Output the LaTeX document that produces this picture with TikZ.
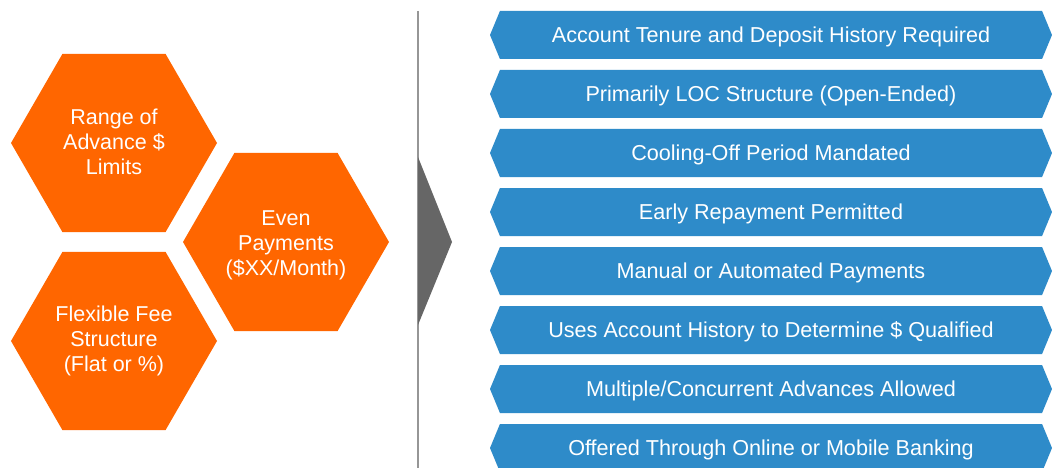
\documentclass[tikz,border=0pt]{standalone}
\usepackage{fontspec}
\setmainfont{Liberation Sans}
\usetikzlibrary{shapes.geometric,shapes.symbols}
\definecolor{hexorange}{RGB}{255,102,0}
\definecolor{bannerblue}{RGB}{46,139,201}
\definecolor{sepgray}{RGB}{150,150,150}
\definecolor{arrowgray}{RGB}{102,102,102}
\begin{document}
\begin{tikzpicture}[x=1pt,y=-1pt,
  hexbox/.style={shape=regular polygon, regular polygon sides=6, minimum size=206pt,
    inner sep=0pt, outer sep=0pt, fill=hexorange},
  hextext/.style={inner sep=0pt, text=white, align=center,
    font=\fontsize{21.5}{25}\selectfont},
  banner/.style={shape=signal, signal to=west and east, signal pointer angle=135,
    minimum width=562pt, minimum height=48pt, inner sep=0pt, outer sep=0pt,
    text height=15pt, text depth=0pt,
    fill=bannerblue, text=white, font=\fontsize{21.6}{25}\selectfont}]
\clip (0,0) rectangle (1052,468);
\fill[white] (0,0) rectangle (1052,468);
% hexagons
\node[hexbox] (h1) at (114,143) {};
\node[hexbox] (h2) at (286,242) {};
\node[hexbox] (h3) at (114,341) {};
\node[hextext] (t1) at (114,142) {Range of\\Advance \$\\Limits};
\node[hextext] (t2) at (286,245) {Even\\Payments\\(\$XX/Month)};
\node[hextext] (t3) at (114,341) {Flexible Fee\\Structure\\(Flat or \%)};
% separator and arrow
\coordinate (sepTop) at (418,11);
\coordinate (sepBot) at (418,468);
\draw[sepgray, line width=1.5pt] (sepTop) -- (sepBot);
\coordinate (arA) at (418,157);
\coordinate (arTip) at (452,242);
\coordinate (arB) at (418,325);
\fill[arrowgray] (arA) -- (arTip) -- (arB) -- cycle;
% banners
\node[banner] (b1) at (771,35) {Account Tenure and Deposit History Required};
\node[banner] (b2) at (771,94) {Primarily LOC Structure (Open-Ended)};
\node[banner] (b3) at (771,153) {Cooling-Off Period Mandated};
\node[banner] (b4) at (771,212) {Early Repayment Permitted};
\node[banner] (b5) at (771,271) {Manual or Automated Payments};
\node[banner] (b6) at (771,330) {Uses Account History to Determine \$ Qualified};
\node[banner] (b7) at (771,389) {Multiple/Concurrent Advances Allowed};
\node[banner] (b8) at (771,448) {Offered Through Online or Mobile Banking};
\end{tikzpicture}
\end{document}
